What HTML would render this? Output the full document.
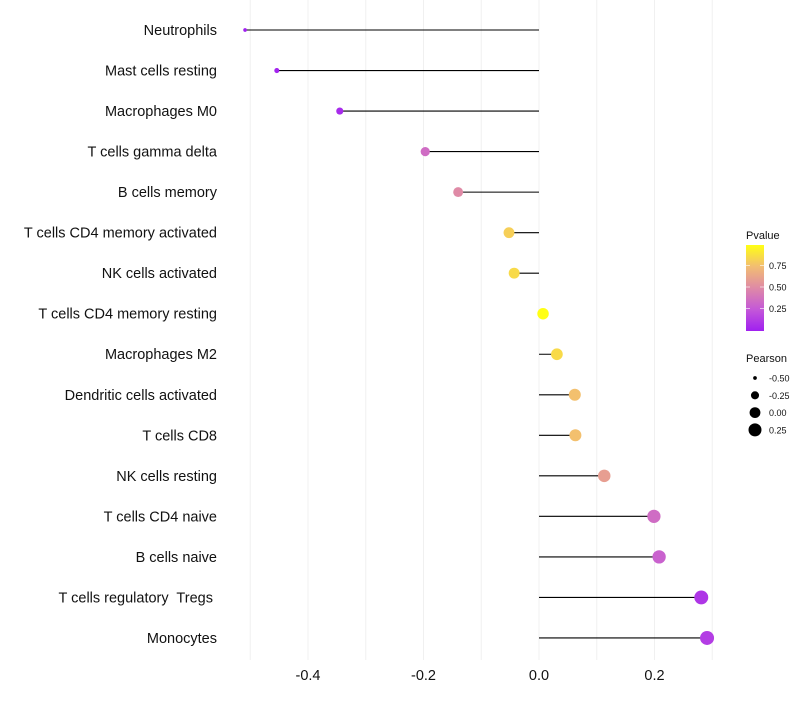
<!DOCTYPE html>
<html><head><meta charset="utf-8"><style>
body{margin:0;background:#fff;font-family:"Liberation Sans",sans-serif}
svg text{font-family:"Liberation Sans",sans-serif;white-space:pre}
</style></head><body>
<svg id="c" width="800" height="700"></svg>
<script>
const categories=["Neutrophils","Mast cells resting","Macrophages M0","T cells gamma delta","B cells memory","T cells CD4 memory activated","NK cells activated","T cells CD4 memory resting","Macrophages M2","Dendritic cells activated","T cells CD8","NK cells resting","T cells CD4 naive","B cells naive","T cells regulatory  Tregs ","Monocytes"];
const pearson=[-0.509,-0.454,-0.345,-0.197,-0.140,-0.052,-0.043,0.007,0.031,0.062,0.063,0.113,0.199,0.208,0.281,0.291];
const pvalues=[0.0,0.02,0.05,0.35,0.5,0.82,0.86,1.0,0.86,0.76,0.76,0.6,0.35,0.3,0.1,0.13];
const xTicks=[-0.4,-0.2,0.0,0.2];
const xGrid=[-0.5,-0.4,-0.3,-0.2,-0.1,0,0.1,0.2,0.3];
const pTicks=[0.25,0.5,0.75];
const sizeLegend=[-0.5,-0.25,0,0.25];

const NS="http://www.w3.org/2000/svg";
const svg=document.getElementById('c');
function mk(t,a,p){const e=document.createElementNS(NS,t);for(const k in a)e.setAttribute(k,a[k]);(p||svg).appendChild(e);return e;}
const X=v=>539+v*577.5;
const Y=i=>30+i*40.53;
const R=v=>Math.sqrt(Math.max(2,3.24+57.2*(v+0.51)));
const stops=[[0,[160,32,240]],[0.25,[196,88,216]],[0.5,[223,138,166]],[0.75,[242,189,114]],[1,[255,255,20]]];
function col(p){for(let i=1;i<stops.length;i++){if(p<=stops[i][0]){const a=stops[i-1],b=stops[i],t=(p-a[0])/(b[0]-a[0]);return 'rgb('+a[1].map((c,k)=>Math.round(c+(b[1][k]-c)*t)).join(',')+')';}}return 'rgb(255,255,20)';}

xGrid.forEach(v=>{const g=mk('line',{x1:X(v),x2:X(v),y1:0,y2:660,stroke:'#f0f0f0','stroke-width':1});

});
xTicks.forEach(v=>{const t=mk('text',{x:X(v),y:680,'text-anchor':'middle','font-size':14.5,fill:'#111'});t.textContent=v.toFixed(1);

});
categories.forEach((c,i)=>{
const t=mk('text',{x:217,y:Y(i)+5,'text-anchor':'end','font-size':14.5,fill:'#111'});t.textContent=c;


const l=mk('line',{x1:X(0),x2:X(pearson[i]),y1:Y(i),y2:Y(i),stroke:'#000','stroke-width':1.1});


const d=mk('circle',{cx:X(pearson[i]),cy:Y(i),r:R(pearson[i]),fill:col(pvalues[i])});


});
const t1=mk('text',{x:746,y:239,'font-size':11,fill:'#111'});t1.textContent='Pvalue';


const defs=mk('defs',{});const lg=mk('linearGradient',{id:'g',x1:0,y1:1,x2:0,y2:0},defs);
stops.forEach(s=>mk('stop',{offset:s[0],'stop-color':col(s[0])},lg));
const bar=mk('rect',{x:746,y:245,width:18,height:86,fill:'url(#g)'});


const PY=p=>330-p*86;
pTicks.forEach(p=>{mk('line',{x1:746,x2:750,y1:PY(p),y2:PY(p),stroke:'#fff','stroke-opacity':0.6});mk('line',{x1:760,x2:764,y1:PY(p),y2:PY(p),stroke:'#fff','stroke-opacity':0.6});
const t=mk('text',{x:769,y:PY(p)+3.5,'font-size':9,fill:'#111'});t.textContent=p.toFixed(2);

});
const t2=mk('text',{x:746,y:362,'font-size':11,fill:'#111'});t2.textContent='Pearson';


sizeLegend.forEach((v,i)=>{const y=378+i*17.3;
const c=mk('circle',{cx:755,cy:y,r:R(v)*0.95,fill:'#000'});


const t=mk('text',{x:769,y:y+3.5,'font-size':9,fill:'#111'});t.textContent=v.toFixed(2);

});
</script>
</body></html>
